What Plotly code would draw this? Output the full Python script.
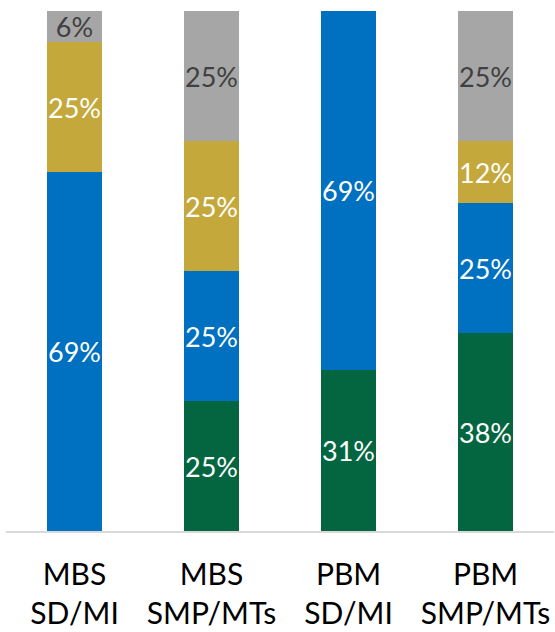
import plotly.graph_objects as go

categories = ["MBS<br>SD/MI", "MBS<br>SMP/MTs", "PBM<br>SD/MI", "PBM<br>SMP/MTs"]
green_vals = [0, 25, 31, 38]
blue_vals = [69, 25, 69, 25]
gold_vals = [25, 25, 0, 12]
gray_vals = [6, 25, 0, 25]

series = [
    ("Green", green_vals, "#046641", "white"),
    ("Blue", blue_vals, "#0070C0", "white"),
    ("Gold", gold_vals, "#C4A83C", "white"),
    ("Gray", gray_vals, "#A6A6A6", "#404040"),
]

fig = go.Figure()
for name, vals, color, tcolor in series:
    fig.add_trace(go.Bar(
        x=categories, y=vals, name=name,
        marker=dict(color=color, line=dict(width=0)),
        text=[f"{v}%" if v > 0 else "" for v in vals],
        textposition="inside", insidetextanchor="middle",
        textangle=0, constraintext="none",
        textfont=dict(family="Lato, Open Sans, sans-serif", size=27, color=tcolor),
        hoverinfo="skip",
    ))

fig.update_layout(
    barmode="stack", bargap=0.6,
    width=555, height=632,
    margin=dict(l=6, r=1, t=11, b=101),
    paper_bgcolor="white", plot_bgcolor="white",
    showlegend=False,
    font=dict(family="Lato, Open Sans, sans-serif", color="black"),
)
fig.update_xaxes(
    showline=True, linecolor="#D9D9D9", linewidth=2,
    showgrid=False, ticks="", ticklabelstandoff=16,
    tickfont=dict(size=30, color="black"),
)
fig.update_yaxes(range=[0, 100], visible=False, showgrid=False)

fig.write_html("out.html")
